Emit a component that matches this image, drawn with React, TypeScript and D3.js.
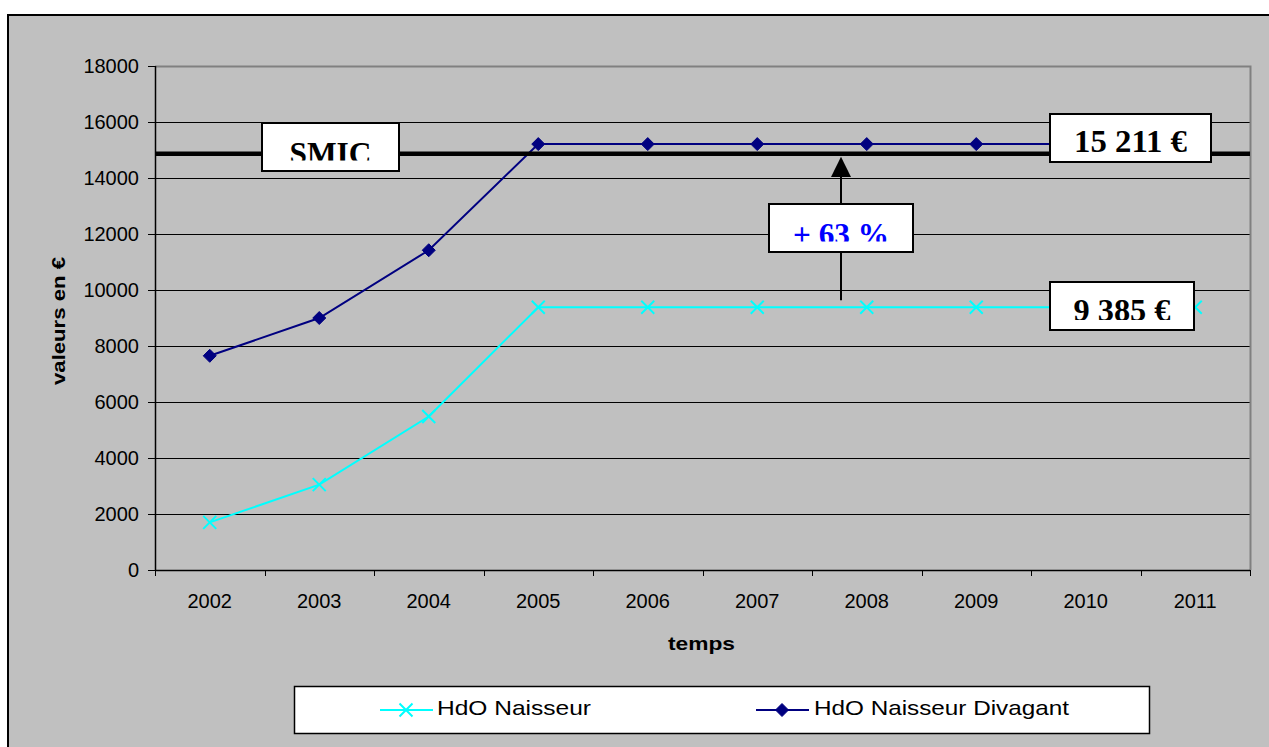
import React from 'react';
import * as d3 from 'd3';

const years = ['2002', '2003', '2004', '2005', '2006', '2007', '2008', '2009', '2010', '2011'];
const naisseur = [1700, 3050, 5480, 9385, 9385, 9385, 9385, 9385, 9385, 9385];
const divagant = [7650, 9000, 11420, 15211, 15211, 15211, 15211, 15211, 15211, 15211];
const smicValue = 14870;
const yTicks = [0, 2000, 4000, 6000, 8000, 10000, 12000, 14000, 16000, 18000];
const seriesNames = ['HdO Naisseur', 'HdO Naisseur Divagant'];
const seriesColors = ['#00FFFF', '#000080'];
const yAxisTitle = 'valeurs en €';
const xAxisTitle = 'temps';
const boxTexts = ['SMIC', '15 211 €', '+ 63 %', '9 385 €'];

const W = 1269;
const H = 747;
const L = 155, R = 1250, T = 66, B = 570;

const x = d3.scaleBand<string>().domain(years).range([L, R]);
const y = d3.scaleLinear().domain([0, 18000]).range([B, T]);
const cx = (yr: string) => (x(yr) as number) + x.bandwidth() / 2;

const line = d3.line<number>()
  .x((_, i) => cx(years[i]))
  .y((v) => y(v))
  .curve(d3.curveLinear);

const XMark = ({ px, py, s = 6.5, color }: { px: number; py: number; s?: number; color: string }) => (
  <path d={`M${px - s},${py - s}L${px + s},${py + s}M${px - s},${py + s}L${px + s},${py - s}`} stroke={color} strokeWidth={2} fill="none" />
);
const Diamond = ({ px, py, s = 6.5, color }: { px: number; py: number; s?: number; color: string }) => (
  <path d={`M${px},${py - s}L${px + s},${py}L${px},${py + s}L${px - s},${py}Z`} fill={color} stroke={color} strokeWidth={1} />
);

type Box = { id: string; x0: number; y0: number; x1: number; y1: number; text: string; color: string; tl: number; bl: number; clip: number };
const boxes: Box[] = [
  { id: 'b0', x0: 262, y0: 123, x1: 399, y1: 171, text: boxTexts[0], color: '#000', tl: 82, bl: 41, clip: 37.5 },
  { id: 'b1', x0: 1050, y0: 114, x1: 1211, y1: 162, text: boxTexts[1], color: '#000', tl: 113, bl: 38, clip: 39 },
  { id: 'b2', x0: 769, y0: 204, x1: 913, y1: 252, text: boxTexts[2], color: '#0000FF', tl: 96, bl: 40.5, clip: 37.5 },
  { id: 'b3', x0: 1050, y0: 282, x1: 1194, y1: 330, text: boxTexts[3], color: '#000', tl: 97, bl: 38.5, clip: 38 },
];

export default function App() {
  const sans = 'Liberation Sans, Arial, sans-serif';
  const serif = 'Liberation Serif, Times New Roman, serif';
  const arrowX = 841;
  return (
    <svg width={W} height={H} style={{ position: 'absolute', left: 0, top: 0, background: '#fff' }}>
      <defs>
        {boxes.map((b) => (
          <clipPath id={`clip-${b.id}`} key={b.id}>
            <rect x={b.x0} y={b.y0} width={b.x1 - b.x0} height={b.clip} />
          </clipPath>
        ))}
      </defs>
      {/* outer frame */}
      <rect x={8} y={15} width={W + 20} height={H + 20} fill="#C0C0C0" stroke="#000" strokeWidth={2} />
      {/* gridlines */}
      {yTicks.filter((t) => t > 0 && t < 18000).map((t) => (
        <line key={t} x1={L} x2={R} y1={Math.round(y(t)) + 0.5} y2={Math.round(y(t)) + 0.5} stroke="#000" strokeWidth={1} />
      ))}
      {/* plot border top/right */}
      <path d={`M${L},${T + 0.5}H${R + 0.5}V${B}`} fill="none" stroke="#808080" strokeWidth={2} />
      {/* axes */}
      <line x1={L + 0.5} x2={L + 0.5} y1={T} y2={B + 1} stroke="#000" strokeWidth={1.5} />
      <line x1={L} x2={R} y1={B + 0.5} y2={B + 0.5} stroke="#000" strokeWidth={1.5} />
      {yTicks.map((t) => (
        <g key={t}>
          <line x1={L - 7} x2={L} y1={Math.round(y(t)) + 0.5} y2={Math.round(y(t)) + 0.5} stroke="#000" />
          <text x={139} y={y(t)} dy="0.36em" textAnchor="end" fontFamily={sans} fontSize={20} fill="#000">{t}</text>
        </g>
      ))}
      {[...years.map((yr) => x(yr) as number), R].map((px, i) => (
        <line key={i} x1={Math.round(px) + 0.5} x2={Math.round(px) + 0.5} y1={B} y2={B + 6} stroke="#000" />
      ))}
      {years.map((yr) => (
        <text key={yr} x={cx(yr)} y={608} textAnchor="middle" fontFamily={sans} fontSize={20} fill="#000">{yr}</text>
      ))}
      <text x={701.5} y={650} textAnchor="middle" fontFamily={sans} fontSize={19} fontWeight="bold" textLength={67} lengthAdjust="spacingAndGlyphs">{xAxisTitle}</text>
      <text transform="translate(65,321) rotate(-90)" textAnchor="middle" fontFamily={sans} fontSize={19} fontWeight="bold" textLength={128} lengthAdjust="spacingAndGlyphs">{yAxisTitle}</text>

      {/* series */}
      <path d={line(naisseur) || ''} fill="none" stroke={seriesColors[0]} strokeWidth={2} />
      {naisseur.map((v, i) => <XMark key={i} px={cx(years[i])} py={y(v)} color={seriesColors[0]} />)}
      <path d={line(divagant) || ''} fill="none" stroke={seriesColors[1]} strokeWidth={2} />
      {divagant.map((v, i) => <Diamond key={i} px={cx(years[i])} py={y(v)} color={seriesColors[1]} />)}

      {/* SMIC line */}
      <line x1={L} x2={R} y1={y(smicValue)} y2={y(smicValue)} stroke="#000" strokeWidth={4.5} />

      {/* arrow */}
      <line x1={arrowX} x2={arrowX} y1={y(naisseur[6]) - 7} y2={176} stroke="#000" strokeWidth={2} />
      <path d={`M${arrowX},${y(smicValue) + 3}L${arrowX + 10},177L${arrowX - 10},177Z`} fill="#000" />

      {/* annotation boxes */}
      {boxes.map((b) => (
        <g key={b.id}>
          <rect x={b.x0} y={b.y0} width={b.x1 - b.x0} height={b.y1 - b.y0} fill="#fff" stroke="#000" strokeWidth={2} />
          <text clipPath={`url(#clip-${b.id})`} x={(b.x0 + b.x1) / 2} y={b.y0 + b.bl} textAnchor="middle" fontFamily={serif} fontWeight="bold" fontSize={31} fill={b.color} textLength={b.tl} lengthAdjust="spacingAndGlyphs">{b.text}</text>
        </g>
      ))}

      {/* legend */}
      <rect x={294.5} y={686.5} width={855} height={47} fill="#fff" stroke="#000" strokeWidth={1.5} />
      <line x1={380} x2={433} y1={710} y2={710} stroke={seriesColors[0]} strokeWidth={2} />
      <XMark px={406} py={710} color={seriesColors[0]} />
      <text x={437} y={715} fontFamily={sans} fontSize={21} textLength={154} lengthAdjust="spacingAndGlyphs">{seriesNames[0]}</text>
      <line x1={756} x2={809} y1={710} y2={710} stroke={seriesColors[1]} strokeWidth={2} />
      <Diamond px={782} py={710} color={seriesColors[1]} />
      <text x={814} y={715} fontFamily={sans} fontSize={21} textLength={255} lengthAdjust="spacingAndGlyphs">{seriesNames[1]}</text>
    </svg>
  );
}
